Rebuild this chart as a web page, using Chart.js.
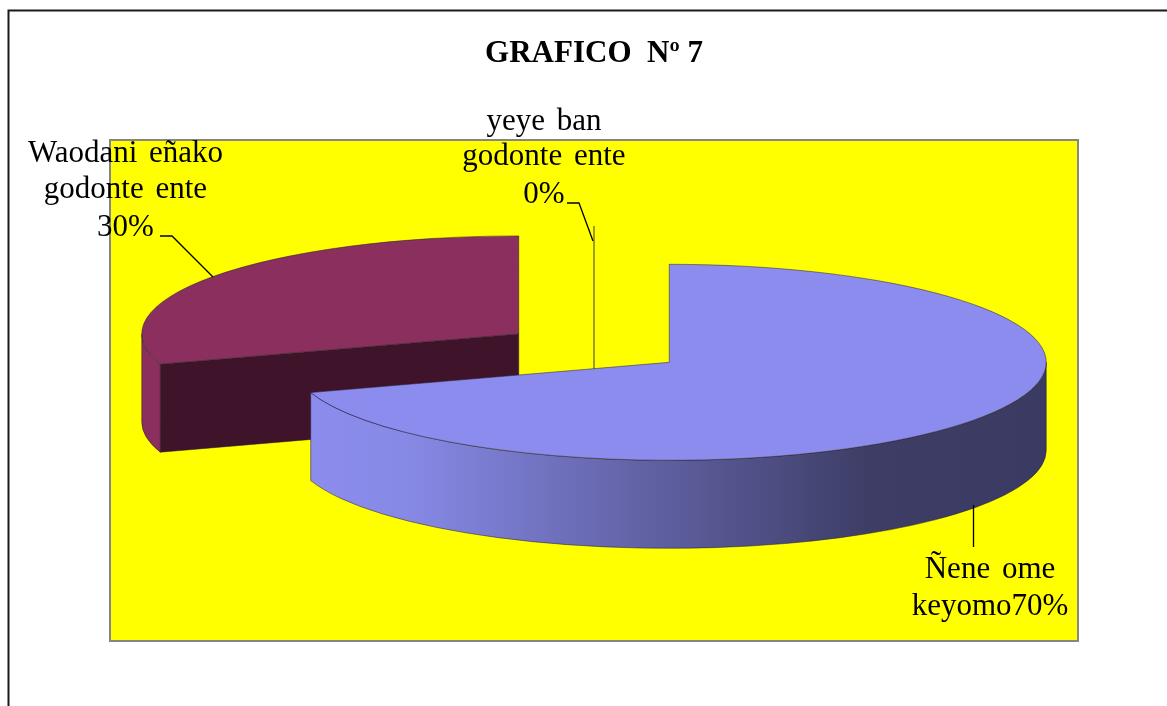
<!DOCTYPE html>
<html>
<head>
<meta charset="utf-8">
<style>html,body{margin:0;padding:0;background:#fff;overflow:hidden}canvas{display:block}</style>
<script src="https://cdn.jsdelivr.net/npm/chart.js"></script>
</head>
<body>
<canvas id="c" width="1167" height="706"></canvas>
<script>
// ---- data ----
const titleText = 'GRAFICO  Nº 7';
const categories = ['Waodani eñako godonte ente', 'yeye ban godonte ente', 'Ñene ome keyomo'];
const values = [30, 0, 70];
const labelLines = [
  ['Waodani eñako', 'godonte ente', '30%'],
  ['yeye ban', 'godonte ente', '0%'],
  ['Ñene ome', 'keyomo70%']
];
// ---- style ----
const topColors = ['#8b2f5e', '#8b8c20', '#8b8ced'];
const wallColors = ['#8b2f5e', '#7c7c20', null];
const faceColors = ['#3f142a', '#7c7c20', '#3a3a63'];
const labelAnchors = [
  {x: 125.5, y: [162, 198, 236]},
  {x: 544, y: [130, 165, 203]},
  {x: 990, y: [578, 615]}
];
const leaders = [
  [[160, 236], [172, 236], [213, 277]],
  [[567, 203], [579, 203], [593, 241]],
  [[973.5, 505], [973.5, 547]]
];
const RADIUS = 377, TILT = 98 / 377, DEPTH = 88, EXPLODE = 93;
const PLOT = {left: 110, top: 140, right: 1078, bottom: 641};

function arcTransform(ctx, el, dx, dy) {
  ctx.translate(el.x + dx, el.y + dy);
  ctx.scale(1, TILT);
  ctx.translate(-el.x, -el.y);
}
const edge = 'rgba(35,30,50,0.5)';

function drawSlice(ctx, el, i, area) {
  const s = el.startAngle, e = el.endAngle, R = el.outerRadius;
  const mid = (s + e) / 2;
  const dx = Math.cos(mid) * EXPLODE, dy = Math.sin(mid) * EXPLODE * TILT;
  const pt = a => [el.x + dx + Math.cos(a) * R, el.y + dy + Math.sin(a) * R * TILT];
  const apex = [el.x + dx, el.y + dy];
  if (e - s < 1e-6) {
    const rim = pt(s);
    ctx.save();
    ctx.strokeStyle = faceColors[i];
    ctx.lineWidth = 1.5;
    ctx.beginPath();
    ctx.moveTo(rim[0], rim[1]);
    ctx.lineTo(apex[0], apex[1] + DEPTH);
    ctx.stroke();
    ctx.restore();
    return;
  }
  // cut faces seen by the viewer
  [[s, Math.cos(s) < -1e-6], [e, Math.cos(e) > 1e-6]].forEach(([a, vis]) => {
    if (!vis) return;
    const p = pt(a);
    ctx.beginPath();
    ctx.moveTo(apex[0], apex[1]);
    ctx.lineTo(p[0], p[1]);
    ctx.lineTo(p[0], p[1] + DEPTH);
    ctx.lineTo(apex[0], apex[1] + DEPTH);
    ctx.closePath();
    ctx.fillStyle = faceColors[i];
    ctx.fill();
    ctx.strokeStyle = edge;
    ctx.lineWidth = 1;
    ctx.stroke();
  });
  // outer wall (front half of the rim)
  for (let m = 0; m <= 2 * Math.PI; m += 2 * Math.PI) {
    const lo = Math.max(s, m), hi = Math.min(e, m + Math.PI);
    if (hi <= lo) continue;
    ctx.save();
    arcTransform(ctx, el, dx, dy);
    ctx.beginPath();
    ctx.arc(el.x, el.y, R, lo, hi);
    ctx.arc(el.x, el.y + DEPTH / TILT, R, hi, lo, true);
    ctx.closePath();
    ctx.restore();
    if (wallColors[i]) {
      ctx.fillStyle = wallColors[i];
    } else {
      const x0 = pt(hi)[0], x1 = el.x + dx + R;
      const lg = ctx.createLinearGradient(x0, 0, x1, 0);
      lg.addColorStop(0, '#8b8ced');
      lg.addColorStop(0.13, '#8789e6');
      lg.addColorStop(0.76, '#3d3d66');
      lg.addColorStop(1, '#3a3a63');
      ctx.fillStyle = lg;
    }
    ctx.fill();
    ctx.strokeStyle = edge;
    ctx.lineWidth = 1;
    ctx.stroke();
  }
  // top surface through the library's own arc element
  ctx.save();
  arcTransform(ctx, el, dx, dy);
  el.draw(ctx, area);
  ctx.beginPath();
  ctx.moveTo(el.x, el.y);
  ctx.arc(el.x, el.y, R, s, e);
  ctx.closePath();
  ctx.restore();
  ctx.strokeStyle = edge;
  ctx.lineWidth = 1;
  ctx.stroke();
}

const pie3d = {
  id: 'pie3d',
  beforeDraw(chart) {
    const ctx = chart.ctx;
    ctx.save();
    ctx.fillStyle = '#fff';
    ctx.fillRect(0, 0, chart.width, chart.height);
    // page frame, running off the right and bottom
    ctx.strokeStyle = '#1a1a1a';
    ctx.lineWidth = 2;
    ctx.beginPath();
    ctx.moveTo(8.5, 720);
    ctx.lineTo(8.5, 10.5);
    ctx.lineTo(1180, 10.5);
    ctx.stroke();
    // plot background
    ctx.fillStyle = '#ffff00';
    ctx.fillRect(PLOT.left, PLOT.top, PLOT.right - PLOT.left, PLOT.bottom - PLOT.top);
    ctx.strokeStyle = '#868686';
    ctx.lineWidth = 2;
    ctx.strokeRect(PLOT.left, PLOT.top, PLOT.right - PLOT.left, PLOT.bottom - PLOT.top);
    ctx.restore();
  },
  beforeDatasetDraw(chart, args) {
    const ctx = chart.ctx;
    ctx.save();
    args.meta.data.forEach((el, i) => drawSlice(ctx, el, i, chart.chartArea));
    ctx.restore();
    return false;
  },
  afterDatasetsDraw(chart) {
    const ctx = chart.ctx;
    ctx.save();
    ctx.strokeStyle = '#000';
    ctx.lineWidth = 1.3;
    leaders.forEach(pts => {
      ctx.beginPath();
      pts.forEach((p, j) => j ? ctx.lineTo(p[0], p[1]) : ctx.moveTo(p[0], p[1]));
      ctx.stroke();
    });
    ctx.fillStyle = '#000';
    ctx.font = '31px "Liberation Serif"';
    ctx.wordSpacing = '4px';
    ctx.textAlign = 'center';
    ctx.textBaseline = 'alphabetic';
    labelLines.forEach((lines, i) => {
      lines.forEach((t, j) => ctx.fillText(t, labelAnchors[i].x, labelAnchors[i].y[j]));
    });
    ctx.restore();
  }
};

new Chart(document.getElementById('c'), {
  type: 'pie',
  data: {
    labels: categories,
    datasets: [{
      data: values,
      backgroundColor: topColors,
      borderWidth: 0,
      clip: false
    }]
  },
  options: {
    responsive: false,
    animation: false,
    events: [],
    rotation: 252,
    radius: RADIUS,
    layout: {padding: {left: 110, right: 89, top: 0, bottom: 82}},
    plugins: {
      legend: {display: false},
      tooltip: {enabled: false},
      title: {
        display: true,
        text: titleText,
        fullSize: false,
        color: '#000',
        font: {family: '"Liberation Serif"', size: 31, weight: 'bold', lineHeight: 1.2},
        padding: {top: 35, bottom: 0}
      }
    }
  },
  plugins: [pie3d]
});
</script>
</body>
</html>
